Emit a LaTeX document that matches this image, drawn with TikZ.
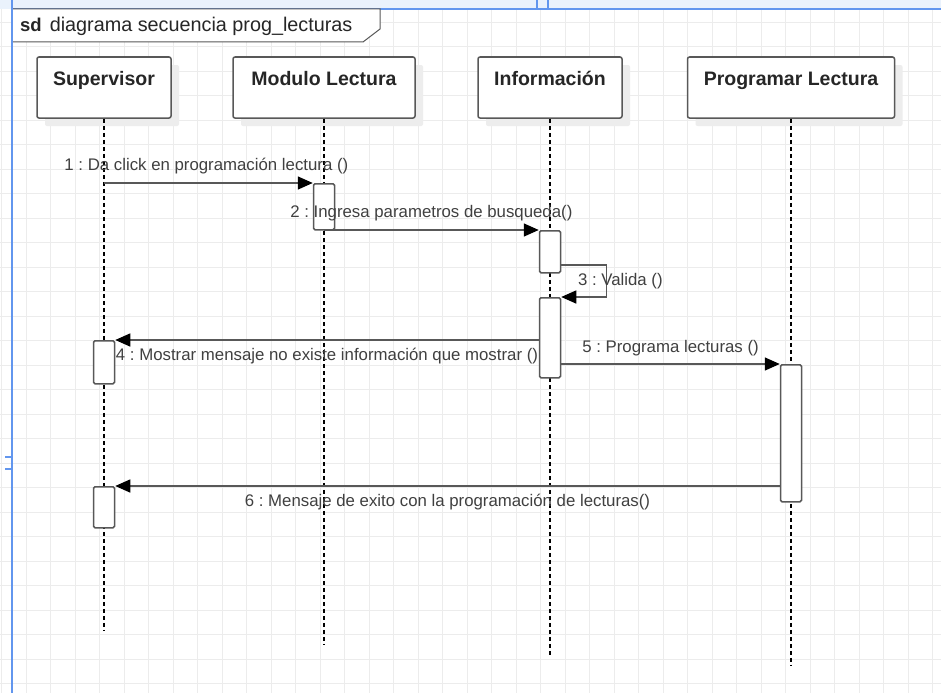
\documentclass[tikz,border=0pt]{standalone}
\usepackage{fontspec}
\setmainfont{Liberation Sans}
\usetikzlibrary{arrows.meta,positioning,shadows}
\definecolor{selblue}{RGB}{98,150,238}
\definecolor{bandblue}{RGB}{234,242,252}
\definecolor{gridgray}{RGB}{236,236,236}
\definecolor{edgegray}{RGB}{88,88,88}
\definecolor{lblgray}{RGB}{64,64,64}
\newcommand{\headfont}{\fontsize{19.5}{22}\selectfont\bfseries}
\newcommand{\msgfont}{\fontsize{16.8}{19}\selectfont}
\newcommand{\titlefont}{\fontsize{19.8}{22}\selectfont}
\frenchspacing

\begin{document}
\begin{tikzpicture}[x=1pt,y=-1pt,
    gridline/.style={gridgray,line width=1pt},
    head/.style={draw=edgegray,line width=1.5pt,fill=white,rounded corners=2pt,inner sep=0pt,
      minimum height=61pt,text height=28pt,text depth=33pt,font=\headfont,text=black!85,
      drop shadow={shadow xshift=8pt,shadow yshift=-8pt,fill=black!7,opacity=1}},
    lifeline/.style={black,line width=1.3pt,dash pattern=on 4pt off 3pt},
    act/.style={draw=edgegray,line width=1.5pt,fill=white,rounded corners=1.5pt,minimum width=21pt,inner sep=0pt,anchor=north},
    msg/.style={edgegray,line width=1.5pt,-{Triangle[length=15pt,width=13pt,color=black]}},
    msglbl/.style={font=\msgfont,text=lblgray,inner sep=1pt}]
    \useasboundingbox (0,0) rectangle (941,693);
    \fill[white] (0,0) rectangle (941,693);
    \foreach \i in {0,...,38}
        \draw[gridline] ({1.5+24.5*\i},0) -- ++(0,693);
    \foreach \j in {0,...,27}
        \draw[gridline] (0,{22.4+24.5*\j}) -- ++(941,0);
    \fill[bandblue] (0,0) rectangle (941,9);
    \draw[selblue,line width=1.5pt] (12,9) -- (941,9);
    \draw[selblue,line width=2pt] (12,0) -- (12,693);
    \draw[selblue,line width=1.5pt] (537,0) -- (537,9) (548,0) -- (548,9);
    \draw[selblue,line width=1.5pt] (5,457) -- (12,457) (5,469) -- (12,469);

    \draw[edgegray,line width=1pt,fill=white] (13,9) -- (380,9) -- (380,29) -- (363,42) -- (13,42);
    \node[anchor=west,font=\titlefont,text=black!85,inner sep=0pt] (sdtitle) at (20,26) {{\fontsize{18.5}{21}\selectfont\bfseries sd}\hspace{8pt}diagrama secuencia prog\_lecturas};

    \node[head,minimum width=134pt] (sup) at (104,87.5) {Supervisor};
    \node[head,minimum width=182pt] (mod) at (324,87.5) {Modulo Lectura};
    \node[head,minimum width=144pt] (inf) at (550,87.5) {Información};
    \node[head,minimum width=207pt] (prog) at (791,87.5) {Programar Lectura};

    \coordinate (supend) at (sup.south |- 0,630);
    \coordinate (modend) at (mod.south |- 0,645);
    \coordinate (infend) at (inf.south |- 0,657);
    \coordinate (progend) at (prog.south |- 0,665);
    \draw[lifeline] (sup) -- (supend);
    \draw[lifeline] (mod) -- (modend);
    \draw[lifeline] (inf) -- (infend);
    \draw[lifeline] (prog) -- (progend);

    \node[act,minimum height=46pt] (act1) at (mod.south |- 0,183) {};
    \node[act,minimum height=42pt] (act2) at (inf.south |- 0,230) {};
    \node[act,minimum height=80pt] (act3) at (inf.south |- 0,297) {};
    \node[act,minimum height=43pt] (act4) at (sup.south |- 0,340) {};
    \node[act,minimum height=137pt] (act5) at (prog.south |- 0,364) {};
    \node[act,minimum height=41pt] (act6) at (sup.south |- 0,486) {};

    \draw[msg] (sup.south |- act1.north) -- node[msglbl,above=7pt,xshift=-2pt] {1 : Da click en programación lectura ()} (act1.north west);
    \draw[msg] (mod.south |- act2.north) -- node[msglbl,above=7pt] {2 : Ingresa parametros de busqueda()} (act2.north west);
    \draw[msg] (act2.east |- 0,265) -- ++(45,0) |- node[msglbl,pos=0.25,anchor=west,xshift=-30pt] {3 : Valida ()} (act3.north east);
    \draw[msg] (act3.west |- act4.north) -- node[msglbl,below=6pt] {4 : Mostrar mensaje no existe información que mostrar ()} (act4.north east);
    \draw[msg] (act3.east |- act5.north) -- node[msglbl,above=6pt] {5 : Programa lecturas ()} (act5.north west);
    \draw[msg] (act5.west |- act6.north) -- node[msglbl,below=6pt] {6 : Mensaje de exito con la programación de lecturas()} (act6.north east);
\end{tikzpicture}
\end{document}
